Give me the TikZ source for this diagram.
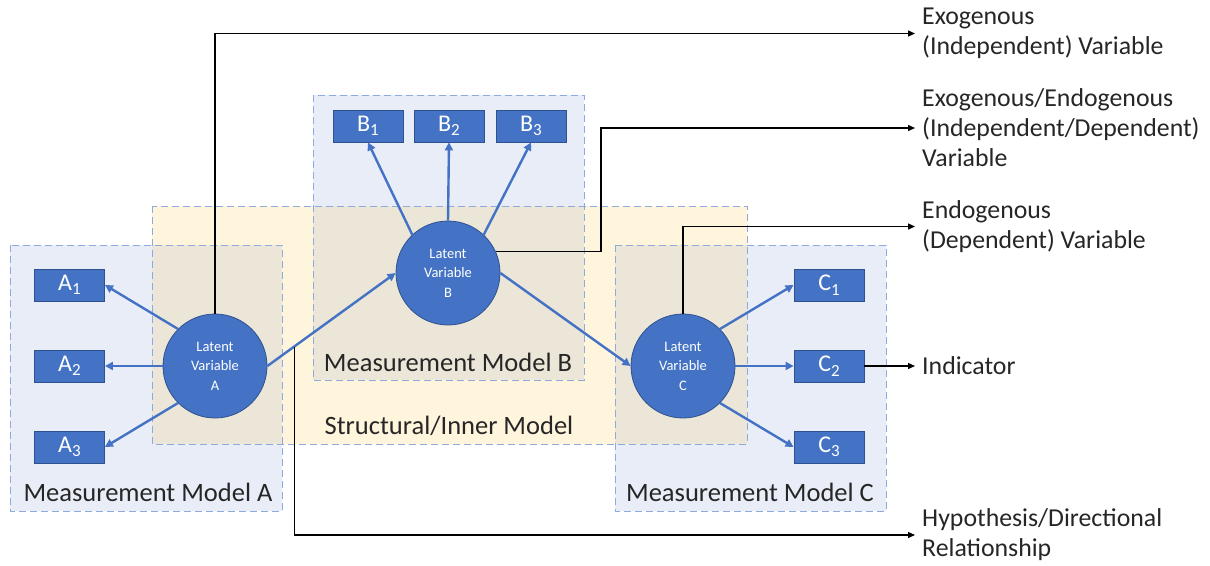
\documentclass[tikz,border=0pt]{standalone}
\usepackage{fontspec}
\setmainfont{Carlito}
\usetikzlibrary{arrows.meta}
\definecolor{nodeblue}{HTML}{4472C4}
\definecolor{nodeedge}{HTML}{2F528F}
\definecolor{mmfill}{HTML}{E9EDF7}
\definecolor{smfill}{HTML}{FFF5DD}
\definecolor{ovfill}{HTML}{EBE6D8}
\definecolor{dashc}{HTML}{8FAADC}
\definecolor{txt}{HTML}{262626}
\newcommand{\ix}[2]{#1\raisebox{-4.5pt}{\fontsize{17}{17}\selectfont #2}}
\begin{document}
\begin{tikzpicture}[x=1pt,y=-1pt,
  regionbox/.style={draw=dashc, line width=1pt, dash pattern=on 7pt off 4pt},
  latent/.style={circle, fill=nodeblue, draw=nodeedge, line width=0.8pt, minimum size=104pt, inner sep=0pt, text=white, align=center, font=\fontsize{14.5}{19.5}\selectfont},
  ind/.style={rectangle, fill=nodeblue, draw=nodeedge, line width=0.8pt, minimum width=70pt, minimum height=32pt, inner sep=0pt, text=white, font=\fontsize{24}{24}\selectfont},
  load/.style={draw=nodeblue, line width=2.4pt, -{Triangle[length=8pt,width=8pt]}},
  blk/.style={draw=black, line width=1.3pt, -{Triangle[length=7pt,width=6pt]}},
  lbl/.style={anchor=west, inner xsep=7pt, inner ysep=0pt, align=left, text=txt, font=\fontsize{25.8}{30}\selectfont},
  mmlabel/.style={text=txt, font=\fontsize{26.5}{26.5}\selectfont, inner sep=0pt}
]
\fill[white] (0,0) rectangle (1210,565);
\useasboundingbox (0,0) rectangle (1210,565);
% region fills
\fill[smfill] (152,206) rectangle (747,444);
\fill[mmfill] (10,245) rectangle (282,511);
\fill[mmfill] (313,95) rectangle (584,380);
\fill[mmfill] (615,245) rectangle (886,511);
\fill[ovfill] (152,245) rectangle (282,444);
\fill[ovfill] (313,206) rectangle (584,380);
\fill[ovfill] (615,245) rectangle (747,444);
% region borders
\draw[regionbox] (152,206) rectangle (747,444);
\draw[regionbox] (10,245) rectangle (282,511);
\draw[regionbox] (313,95) rectangle (584,380);
\draw[regionbox] (615,245) rectangle (886,511);
% region labels
\node[mmlabel] (mmA) at (148,492) {Measurement Model A};
\node[mmlabel] (mmB) at (448,362) {Measurement Model B};
\node[mmlabel] (mmC) at (750,492) {Measurement Model C};
\node[mmlabel] (sm) at (449,426) {Structural/Inner Model};
% latent variables
\node[latent] (LA) at (215,366) {Latent\\Variable\\A};
\node[latent] (LB) at (448,273) {Latent\\Variable\\B};
\node[latent] (LC) at (683,366) {Latent\\Variable\\C};
% indicators
\node[ind] (A1) at (69.5,285) {\ix{A}{1}};
\node[ind] (A2) at (69.5,366) {\ix{A}{2}};
\node[ind] (A3) at (69.5,447) {\ix{A}{3}};
\node[ind] (B1) at (368,126) {\ix{B}{1}};
\node[ind] (B2) at (449,126) {\ix{B}{2}};
\node[ind] (B3) at (531,126) {\ix{B}{3}};
\node[ind] (C1) at (829,285) {\ix{C}{1}};
\node[ind] (C2) at (829,366) {\ix{C}{2}};
\node[ind] (C3) at (829,447) {\ix{C}{3}};
% loadings
\draw[load] (LA.135) -- (A1.east);
\draw[load] (LA.west) -- (A2.east);
\draw[load] (LA.225) -- (A3.east);
\draw[load] (LB.133) -- (B1.south);
\draw[load] (LB.north) -- (B2.south);
\draw[load] (LB.47) -- (B3.south);
\draw[load] (LC.45) -- (C1.west);
\draw[load] (LC.east) -- (C2.west);
\draw[load] (LC.-45) -- (C3.west);
% structural paths
\draw[load] (LA.east) -- coordinate[pos=0.209] (h) (LB.west);
\draw[load] (LB.east) -- (LC.west);
% legend labels
\node[lbl] (L1) at (915,33.5) {Exogenous\\(Independent) Variable};
\node[lbl] (L2) at (915,128) {Exogenous/Endogenous\\(Independent/Dependent)\\Variable};
\node[lbl] (L3) at (915,226.5) {Endogenous\\(Dependent) Variable};
\node[lbl] (L4) at (915,366) {Indicator};
\node[lbl] (L5) at (915,535) {Hypothesis/Directional\\Relationship};
% legend pointers
\draw[blk] (LA.north) |- (L1.west);
\draw[blk] (LB.24) -- ++(105,0) |- (L2.west);
\draw[blk] (LC.north) |- (L3.west);
\draw[blk] (C2.east) -- (L4.west);
\draw[blk] (h) |- (L5.west);
\end{tikzpicture}
\end{document}
